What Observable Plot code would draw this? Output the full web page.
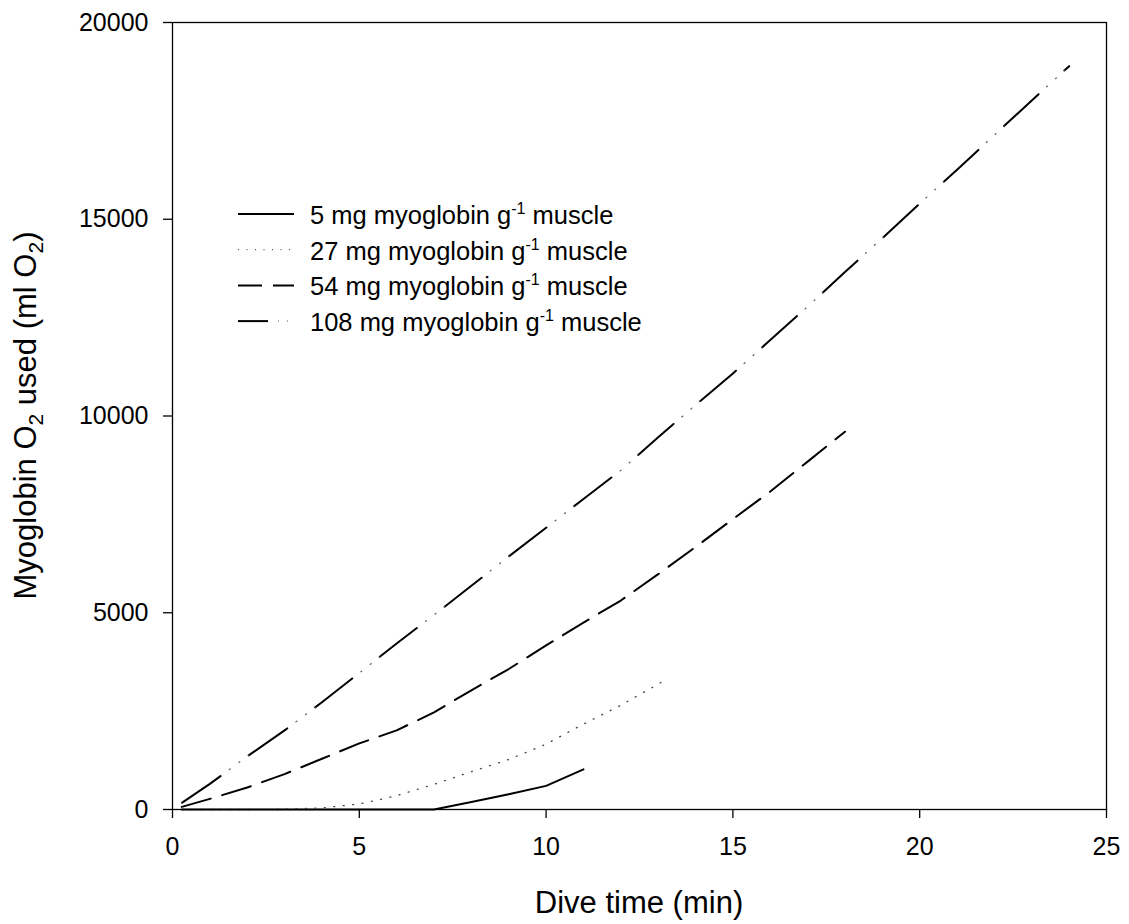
<!DOCTYPE html>
<html><head><meta charset="utf-8">
<script src="https://cdn.jsdelivr.net/npm/d3@7"></script>
<script src="https://cdn.jsdelivr.net/npm/@observablehq/plot@0.6"></script>
<style>
html,body{margin:0;padding:0;background:#fff;}
#chart{width:1129px;height:924px;}
</style></head><body><div id="chart"></div>
<script>
// ---- data ----
const doses = [5, 27, 54, 108]; // mg myoglobin per g muscle
const time5 = [0.25, 1, 2, 3, 4, 5, 6, 7, 8, 9, 10, 11];
const o2_5 = [0, 0, 0, 0, 0, 0, 0, 0, 190, 390, 600, 1020];
const time27 = [0.25, 1, 2, 3, 4, 5, 6, 7, 8, 9, 10, 11, 12, 13.1];
const o2_27 = [0, 0, 0, 10, 40, 140, 350, 640, 960, 1270, 1660, 2170, 2650, 3240];
const time54 = [0.25, 1, 2, 3, 4, 5, 6, 7, 8, 9, 10, 11, 12, 13, 14, 15, 16, 17, 18];
const o2_54 = [66, 270, 560, 900, 1290, 1680, 2010, 2470, 3030, 3570, 4170, 4750, 5310, 5980, 6670, 7380, 8080, 8840, 9600];
const time108 = [0.25, 1, 2, 3, 4, 5, 6, 7, 8, 9, 10, 11, 12, 13, 14, 15, 16, 17, 18, 19, 20, 21, 22, 23, 24];
const o2_108 = [170, 650, 1350, 2010, 2725, 3470, 4220, 4945, 5685, 6430, 7160, 7890, 8620, 9460, 10280, 11080, 11930, 12780, 13660, 14520, 15400, 16260, 17140, 18020, 18890];
const xTicks = [0, 5, 10, 15, 20, 25];
const yTicks = [0, 5000, 10000, 15000, 20000];
const xTitle = "Dive time (min)";

function rows(t, v, dose) { return t.map((x, i) => ({time: x, o2: v[i], dose})); }
const s5 = rows(time5, o2_5, doses[0]);
const s27 = rows(time27, o2_27, doses[1]);
const s54 = rows(time54, o2_54, doses[2]);
const s108 = rows(time108, o2_108, doses[3]);

const FONT = "'Liberation Sans', Arial, Helvetica, sans-serif";

const plot = Plot.plot({
  width: 1129, height: 924,
  marginLeft: 172, marginRight: 23, marginTop: 22, marginBottom: 115,
  x: {domain: [0, 25]},
  y: {domain: [0, 20000]},
  style: {fontFamily: FONT, fontSize: "25px", color: "#000", background: "#fff"},
  marks: [
    Plot.axisX({ticks: xTicks, tickSize: 9, tickPadding: 19, label: null, tickFormat: d => String(d), fontSize: 25, strokeWidth: 1.3}),
    Plot.axisY({ticks: yTicks, tickSize: 9, tickPadding: 15, label: null, tickFormat: d => String(d), fontSize: 25, strokeWidth: 1.3}),
    Plot.line(s5, {x: "time", y: "o2", stroke: "#000", strokeWidth: 2}),
    Plot.line(s27, {x: "time", y: "o2", stroke: "#444", strokeWidth: 1.3, strokeDasharray: "1,8.5"}),
    Plot.line(s54, {x: "time", y: "o2", stroke: "#000", strokeWidth: 2, strokeDasharray: "30,12"}),
    Plot.line(s108, {x: "time", y: "o2", stroke: "#000", strokeWidth: 2, strokeDasharray: "47,35"}),
    Plot.line(s108, {x: "time", y: "o2", stroke: "#666", strokeWidth: 1.3, strokeDasharray: "0,58,1,11,1,11"}),
    Plot.frame({stroke: "#000", strokeWidth: 1.3})
  ]
});
document.getElementById("chart").appendChild(plot);

const svg = d3.select(plot);
const xr = plot.scale("x").range, yr = plot.scale("y").range;
const cx = (xr[0] + xr[1]) / 2, cy = (yr[0] + yr[1]) / 2;

// x axis title
svg.append("text").attr("x", cx).attr("y", 913).attr("text-anchor", "middle")
  .attr("font-family", FONT).attr("font-size", 31).attr("fill", "#000").text(xTitle);

// y axis title with subscripts
const yt = svg.append("text").attr("transform", `translate(36,${cy}) rotate(-90)`)
  .attr("text-anchor", "middle").attr("font-family", FONT).attr("font-size", 31).attr("fill", "#000");
yt.append("tspan").text("Myoglobin O");
yt.append("tspan").attr("font-size", 21).attr("dy", 7).text("2");
yt.append("tspan").attr("dy", -7).text(" used (ml O");
yt.append("tspan").attr("font-size", 21).attr("dy", 7).text("2");
yt.append("tspan").attr("dy", -7).text(")");

// legend
const legendStyles = [
  [{stroke: "#000", w: 2, dash: null}],
  [{stroke: "#555", w: 1.2, dash: "1,7.5"}],
  [{stroke: "#000", w: 2, dash: "24,11"}],
  [{stroke: "#000", w: 2, dash: "30,30"}, {stroke: "#777", w: 1.2, dash: "0,40,1,8,1,20"}]
];
doses.forEach((d, i) => {
  const g = svg.append("g").attr("transform", `translate(238,${214 + i * 35.7})`);
  legendStyles[i].forEach(st => {
    const l = g.append("line").attr("x1", 0).attr("x2", 56).attr("y1", 0).attr("y2", 0)
      .attr("stroke", st.stroke).attr("stroke-width", st.w);
    if (st.dash) l.attr("stroke-dasharray", st.dash);
  });
  const t = g.append("text").attr("x", 72).attr("y", 10).attr("text-anchor", "start")
    .attr("font-family", FONT).attr("font-size", 25.5).attr("fill", "#000");
  t.append("tspan").text(`${d} mg myoglobin g`);
  t.append("tspan").attr("font-size", 16).attr("dy", -10).text("-1");
  t.append("tspan").attr("dy", 10).text(" muscle");
});
</script></body></html>
